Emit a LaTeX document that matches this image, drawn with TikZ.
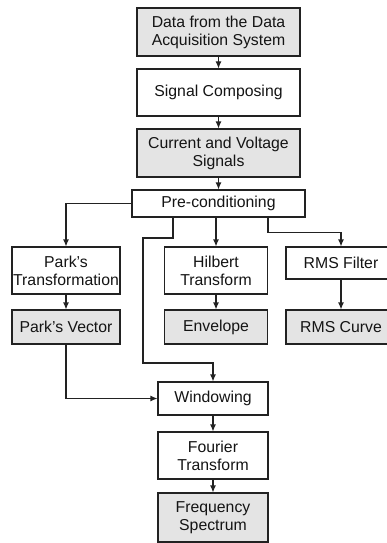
\documentclass[tikz,border=0pt]{standalone}
\usepackage{fontspec}
\setmainfont{Liberation Sans}
\usetikzlibrary{arrows.meta,calc}
\definecolor{boxgray}{HTML}{E4E4E4}
\definecolor{linegray}{HTML}{222222}
\begin{document}
\begin{tikzpicture}[x=1pt,y=-1pt,
  box/.style={draw=linegray,line width=1.1pt,fill=white,align=center,inner sep=0pt,
    font=\fontsize{15.8}{18}\selectfont,text=black!92},
  gbox/.style={box,fill=boxgray},
  arr/.style={draw=linegray,line width=1.1pt,-{Latex[length=7pt,width=6pt]}}]
\useasboundingbox (0,0) rectangle (386,543);
\node[gbox,minimum width=163,minimum height=48] (b1) at (218.5,32) {Data from the Data\\Acquisition System};
\node[box,minimum width=163,minimum height=47] (b2) at (218.5,92.5) {Signal Composing};
\node[gbox,minimum width=163,minimum height=48] (b3) at (218.5,153) {Current and Voltage\\Signals};
\node[box,minimum width=173,minimum height=27] (pre) at (218.5,203.5) {Pre-conditioning};
\node[box,minimum width=108,minimum height=47] (pt) at (66,270.5) {Park’s\\Transformation};
\node[gbox,minimum width=108,minimum height=34] (pv) at (66,327) {Park’s Vector};
\node[box,minimum width=103,minimum height=47] (ht) at (216,270.5) {Hilbert\\Transform};
\node[gbox,minimum width=103,minimum height=34] (env) at (216,327) {Envelope};
\node[box,minimum width=110,minimum height=32] (rf) at (341,263) {RMS Filter};
\node[gbox,minimum width=110,minimum height=34] (rc) at (341,327) {RMS Curve};
\node[box,minimum width=110,minimum height=33] (win) at (213,398.5) {Windowing};
\node[box,minimum width=110,minimum height=47] (ft) at (213,455.5) {Fourier\\Transform};
\node[gbox,minimum width=110,minimum height=49] (fs) at (213,517.5) {Frequency\\Spectrum};
\coordinate (k1) at (143,238);
\coordinate (k2) at (143,363);
\draw[arr] (b1) -- (b2);
\draw[arr] (b2) -- (b3);
\draw[arr] (b3) -- (pre);
\draw[arr] (pre.west) -| (pt.north);
\draw[arr] ([xshift=-45.5pt]pre.south) |- (k1) -- (k2) -| (win.north);
\draw[arr] (pre.south -| ht.north) -- (ht.north);
\draw[arr] ([xshift=49.5pt]pre.south) -- ++(0,15) -| (rf.north);
\draw[arr] (pt) -- (pv);
\draw[arr] (ht) -- (env);
\draw[arr] (rf) -- (rc);
\draw[arr] (pv.south) |- (win.west);
\draw[arr] (win) -- (ft);
\draw[arr] (ft) -- (fs);
\end{tikzpicture}
\end{document}
